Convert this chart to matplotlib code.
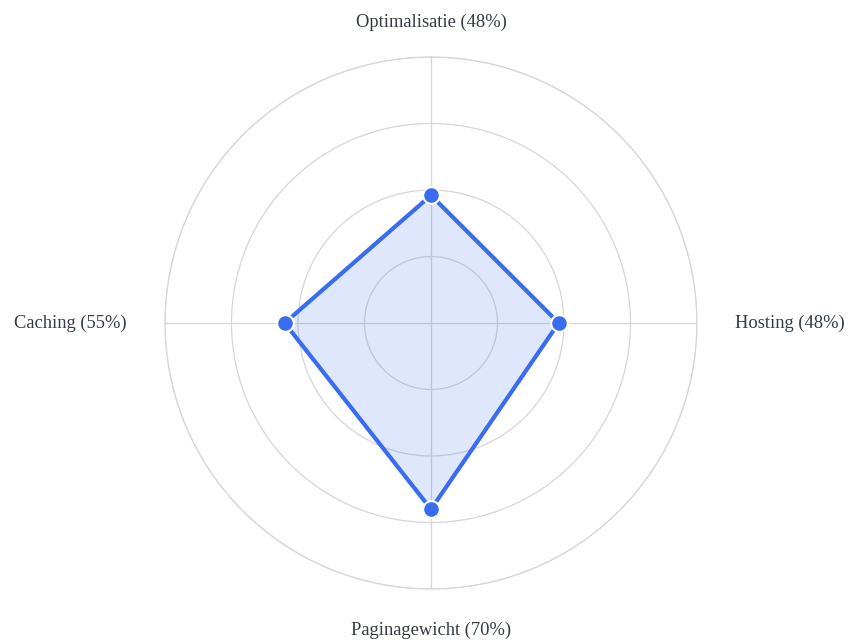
import numpy as np
import matplotlib.pyplot as plt

categories = ['Optimalisatie', 'Hosting', 'Paginagewicht', 'Caching']
values = [48, 48, 70, 55]
ring_levels = [25, 50, 75, 100]

line_color = '#3a6cf0'
grid_color = '#d6d6d6'
text_color = '#333a44'

plt.rcParams['font.family'] = ['Liberation Serif', 'DejaVu Serif']

fig = plt.figure(figsize=(8.5, 6.44), dpi=100)
ax = fig.add_axes([0.1941, 0.0854, 0.6259, 0.8261], projection='polar')
ax.set_theta_offset(np.pi / 2)
ax.set_theta_direction(-1)

angles = np.linspace(0, 2 * np.pi, len(categories), endpoint=False)
closed_angles = np.append(angles, angles[0])
closed_values = np.append(values, values[0])

ax.set_ylim(0, 100)
ax.set_yticks(ring_levels)
ax.set_yticklabels([])
ax.set_xticks(angles)
ax.set_xticklabels([])
ax.grid(color=grid_color, linewidth=0.9)
ax.spines['polar'].set_color(grid_color)
ax.spines['polar'].set_linewidth(0.9)
ax.tick_params(length=0)

ax.fill(closed_angles, closed_values, color=line_color, alpha=0.16, zorder=2)
ax.plot(closed_angles, closed_values, color=line_color, linewidth=3, zorder=3)
ax.plot(angles, values, 'o', color=line_color, markersize=12,
        markeredgecolor='white', markeredgewidth=1.5, zorder=4)

# axis labels with value in parentheses
aligns = [('center', 'center'), ('left', 'center'), ('center', 'center'), ('right', 'center')]
radii = [113.0, 114.3, 115.5, 114.3]
for ang, cat, val, (ha, va), r in zip(angles, categories, values, aligns, radii):
    ax.text(ang, r, f'{cat} ({val}%)', ha=ha, va=va, fontsize=13.3,
            color=text_color, clip_on=False)

fig.savefig('out.png', dpi=100)
